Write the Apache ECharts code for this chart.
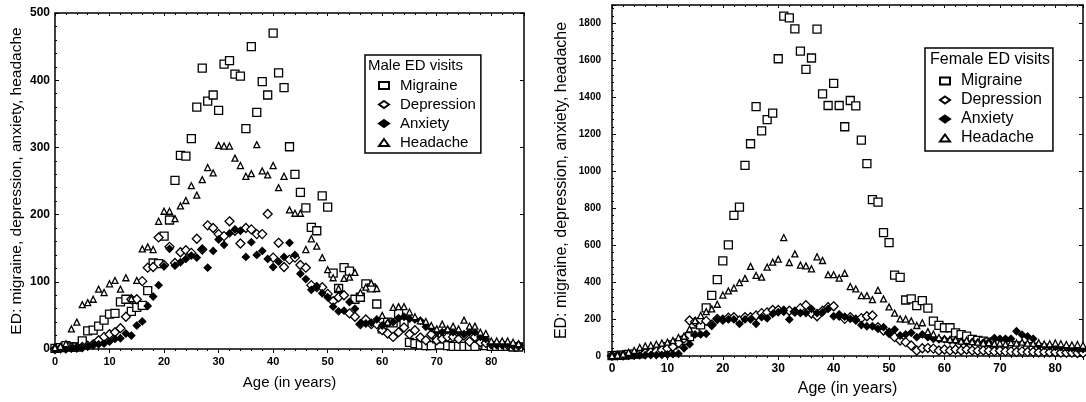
<!DOCTYPE html>
<html lang="en">
<head>
<meta charset="UTF-8">
<script src="https://cdn.jsdelivr.net/npm/echarts@6/dist/echarts.min.js"></script>
<title>ED visits by age</title>
<style>
    html, body { margin: 0; background: #fff; }
    #chart { width: 1086px; height: 402px; }
</style>
</head>
<body>
<div id="chart"></div>
<script type="text/javascript">
    // ages 0..85 (x values)
    var ages = [];
    for (var a = 0; a <= 85; a++) ages.push(a);

    var seriesNames = ['Migraine', 'Depression', 'Anxiety', 'Headache'];

    // male ED visits
    var maleMigraine = [1,2,5,3,3,12,27,28,34,43, 52,53,70,74,56,62,65,87,128,127,
        168,192,251,288,287,313,360,418,369,378, 355,424,429,409,406,328,450,352,398,378,
        470,411,389,301,260,233,210,181,176,228, 211,113,90,121,116,74,77,97,91,67,
        30,40,39,53,39,10,8,6,5,5, 15,18,5,4,4,4,4,4,15,5, 4,4,4,4,3,3];
    var maleDepression = [0,1,1,2,2,3,5,7,13,18, 22,25,31,48,74,74,101,121,122,166,
        125,152,128,144,147,143,164,148,184,180, 171,168,190,176,157,180,178,171,171,201,
        136,158,122,133,136,125,121,95,92,92, 82,71,77,80,53,48,37,44,37,37,
        28,23,18,25,32,22,28,17,13,22, 13,15,18,18,15,20,11,18,10,9, 7,7,7,6,6,5];
    var maleAnxiety = [0,1,0,1,2,2,4,6,7,8, 11,15,16,23,20,35,41,64,78,95,
        123,149,124,129,134,139,136,149,121,146, 163,155,172,178,176,137,159,140,146,134,
        122,130,137,158,140,112,104,88,93,83, 77,63,56,57,70,60,38,38,39,44,
        35,38,40,46,48,45,44,42,33,31, 25,25,28,25,25,22,25,25,18,15, 8,7,7,7,6,6];
    var maleHeadache = [2,4,8,30,40,66,69,74,89,84, 97,102,89,106,75,102,149,152,148,190,
        205,205,194,213,221,243,229,252,270,262, 303,302,302,284,273,257,261,304,265,259,
        273,240,257,207,202,202,148,164,153,136, 118,106,90,105,107,114,84,92,98,90,
        50,40,62,63,63,55,48,42,41,35, 30,37,30,34,30,43,34,34,25,23, 12,12,12,12,10,8];

    // female ED visits
    var femaleMigraine = [2,3,5,8,10,12,18,25,30,40, 50,60,70,85,105,130,168,260,328,413,
        515,601,761,806,1032,1149,1350,1219,1280,1315, 1609,1840,1830,1771,1650,1552,1613,1769,1419,1356,
        1476,1356,1241,1383,1354,1169,1041,847,833,668, 614,438,426,303,309,273,300,259,189,166,
        153,153,125,116,108,90,85,80,75,70, 65,60,58,55,52,50,48,45,42,40, 38,35,33,30,28,26];
    var femaleDepression = [2,3,4,6,8,12,16,20,25,32, 40,50,70,95,192,185,197,190,169,201,
        197,207,210,193,210,210,219,232,236,249, 249,245,245,240,259,275,230,215,245,264,
        269,219,201,210,197,205,215,219,156,138, 126,102,84,75,57,30,42,43,40,30,
        35,30,35,30,35,30,28,30,28,25, 28,25,25,22,25,22,22,20,22,20, 20,18,18,18,16,16];
    var femaleAnxiety = [0,0,1,1,2,3,4,5,5,6, 8,10,12,42,64,117,117,120,165,198,
        198,198,198,174,198,198,174,210,204,228, 237,246,198,242,233,233,255,233,237,255,
        215,222,213,201,197,168,161,161,147,156, 126,143,111,117,126,102,117,102,93,90,
        90,84,82,75,75,75,72,72,75,97, 93,93,93,134,115,106,93,58,55,52, 50,48,45,43,40,38];
    var femaleHeadache = [2,5,10,20,30,46,54,58,64,70, 75,84,100,107,147,192,219,240,255,280,
        330,352,368,397,420,485,436,427,481,508, 524,641,506,553,492,488,472,537,517,440,
        440,422,448,376,363,327,327,305,356,309, 266,232,201,200,190,165,180,132,119,100,
        93,90,88,80,85,78,75,70,72,68, 70,65,72,70,75,70,68,72,65,66, 70,66,62,60,62,58];

    var maleData = [maleMigraine, maleDepression, maleAnxiety, maleHeadache];
    var femaleData = [femaleMigraine, femaleDepression, femaleAnxiety, femaleHeadache];

    // marker look per series
    var marks = {
        Migraine:   { symbol: 'rect',     size: 8, fill: '#fff' },
        Depression: { symbol: 'diamond',  size: 9, fill: '#fff' },
        Anxiety:    { symbol: 'diamond',  size: 7, fill: '#000' },
        Headache:   { symbol: 'triangle', size: 6, fill: '#fff' }
    };

    var font = 'Liberation Sans, Arial, sans-serif';
    var yName = 'ED: migraine, depression, anxiety, headache';
    var frame = { show: true, onZero: false, lineStyle: { color: '#000', width: 1.5 } };

    function pts(vals) {
        return vals.map(function (v, i) { return [ages[i], v]; });
    }

    function xAxes(grid, max, labelSize, nameSize, nameGap) {
        return [
            {
                gridIndex: grid, type: 'value', min: 0, max: max, interval: 10,
                axisLine: frame,
                axisTick: { length: 4, lineStyle: { color: '#000' } },
                minorTick: { show: true, splitNumber: 5, length: 2, lineStyle: { color: '#000' } },
                splitLine: { show: false },
                axisLabel: {
                    color: '#000', fontFamily: font, fontSize: labelSize, fontWeight: 'bold', margin: 7,
                    formatter: function (v) { return v % 10 === 0 ? v : ''; }
                },
                name: 'Age (in years)', nameLocation: 'middle', nameGap: nameGap,
                nameTextStyle: { color: '#000', fontFamily: font, fontSize: nameSize }
            },
            {
                gridIndex: grid, type: 'value', position: 'top', min: 0, max: max, interval: 10,
                axisLine: frame,
                axisTick: { inside: true, length: 3, lineStyle: { color: '#000' } },
                minorTick: { show: true, splitNumber: 5, length: 2, lineStyle: { color: '#000' } },
                splitLine: { show: false },
                axisLabel: { show: false }
            }
        ];
    }

    function yAxes(grid, max, step, labelSize, labelMargin, nameSize, nameGap) {
        return [
            {
                gridIndex: grid, type: 'value', min: 0, max: max, interval: step,
                axisLine: frame,
                axisTick: { inside: true, length: 4, lineStyle: { color: '#000' } },
                minorTick: { show: true, splitNumber: 5, length: 2, lineStyle: { color: '#000' } },
                splitLine: { show: false },
                axisLabel: {
                    color: '#000', fontFamily: font, fontSize: labelSize, fontWeight: 'bold', margin: labelMargin,
                    formatter: function (v) { return v % step === 0 ? v : ''; }
                },
                name: yName, nameLocation: 'middle', nameGap: nameGap,
                nameTextStyle: { color: '#000', fontFamily: font, fontSize: nameSize }
            },
            {
                gridIndex: grid, type: 'value', position: 'right', min: 0, max: max, interval: step,
                axisLine: frame,
                axisTick: { inside: true, length: 4, lineStyle: { color: '#000' } },
                splitLine: { show: false },
                axisLabel: { show: false }
            }
        ];
    }

    function scatter(name, vals, xi, yi) {
        var m = marks[name];
        return {
            name: name,
            type: 'scatter',
            xAxisIndex: xi,
            yAxisIndex: yi,
            symbol: m.symbol,
            symbolSize: m.size,
            symbolKeepAspect: true,
            itemStyle: { color: m.fill, borderColor: '#000', borderWidth: 1.3, opacity: 1 },
            emphasis: { disabled: true },
            data: pts(vals)
        };
    }

    var series = [];
    seriesNames.forEach(function (n, i) { series.push(scatter(n, maleData[i], 0, 0)); });
    seriesNames.forEach(function (n, i) { series.push(scatter(n, femaleData[i], 2, 2)); });

    function legendBox(left, top, pad, size, gap) {
        return {
            orient: 'vertical', left: left, top: top, padding: pad,
            itemWidth: 10, itemHeight: 7, itemGap: gap,
            borderColor: '#000', borderWidth: 1.5, backgroundColor: '#fff',
            selectedMode: false,
            textStyle: { color: '#000', fontFamily: font, fontSize: size, padding: [0, 0, 0, 6] },
            data: seriesNames
        };
    }

    var myChart = echarts.init(document.getElementById('chart'));
    var option = {
        animation: false,
        backgroundColor: '#fff',
        title: [
            { text: 'Male ED visits', left: 368, top: 58, padding: 0,
              textStyle: { color: '#000', fontFamily: font, fontSize: 15, fontWeight: 'normal' } },
            { text: 'Female ED visits', left: 930, top: 52, padding: 0,
              textStyle: { color: '#000', fontFamily: font, fontSize: 16, fontWeight: 'normal' } }
        ],
        legend: [
            legendBox(365, 55, [23, 5, 3, 13], 15, 4),
            legendBox(925, 48, [25, 11, 5, 14], 16, 3)
        ],
        grid: [
            { left: 55, top: 13, width: 469, height: 336 },
            { left: 612, top: 5, width: 478, height: 352 }
        ],
        xAxis: xAxes(0, 86, 11, 15, 26).concat(xAxes(1, 85, 12, 16, 25)),
        yAxis: yAxes(0, 500, 100, 12, 5, 15.5, 30).concat(yAxes(1, 1900, 200, 10, 11, 16, 42)),
        series: series
    };
    myChart.setOption(option);
</script>
</body>
</html>
